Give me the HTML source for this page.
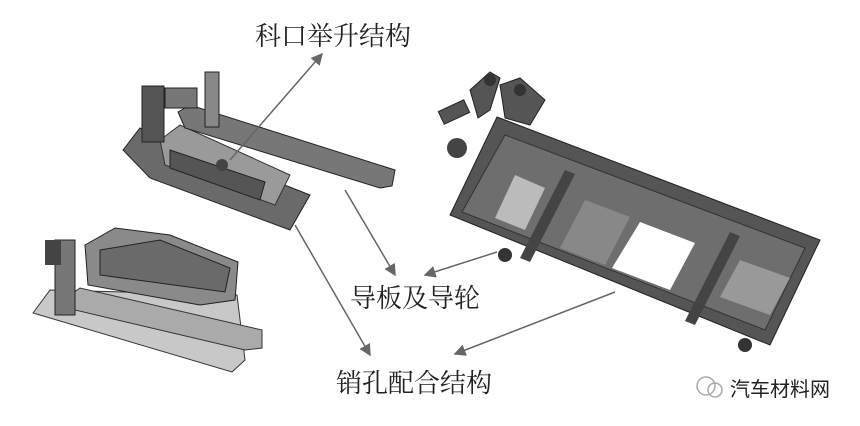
<!DOCTYPE html>
<html><head><meta charset="utf-8"><style>
body{margin:0;background:#fff;width:860px;height:426px;overflow:hidden}
svg{display:block}
text{font-family:"Liberation Serif","Noto Serif CJK SC",serif;fill:#222}
</style></head><body>
<svg width="860" height="426" viewBox="0 0 860 426">
<defs><marker id="a" markerWidth="8" markerHeight="8" refX="7" refY="4" orient="auto"><path d="M0,0 L8,4 L0,8 z" fill="#666"/></marker></defs>
<!-- top-left fixture -->
<polygon points="123,150 140,128 310,195 290,230 150,178" fill="#6a6a6a" stroke="#222"/>
<polygon points="160,140 180,125 290,175 275,205 165,165" fill="#9a9a9a" stroke="#333"/>
<polygon points="170,150 265,182 260,200 170,168" fill="#555" stroke="#222"/>
<polygon points="178,112 190,105 395,170 392,186 380,188 185,128" fill="#777" stroke="#222"/>
<rect x="142" y="86" width="22" height="56" fill="#555" stroke="#222"/>
<rect x="165" y="88" width="32" height="20" fill="#777" stroke="#222"/>
<rect x="205" y="72" width="14" height="55" fill="#888" stroke="#222"/>
<circle cx="222" cy="165" r="6" fill="#444"/>
<!-- bottom-left fixture -->
<polygon points="33,313 50,290 237,295 245,360 232,372" fill="#c8c8c8" stroke="#333"/>
<polygon points="85,245 115,228 170,235 238,262 235,300 200,305 88,285" fill="#8a8a8a" stroke="#222"/>
<polygon points="100,250 160,240 230,268 225,292 100,275" fill="#6a6a6a" stroke="#222"/>
<polygon points="70,295 80,288 262,330 262,348 245,350 75,310" fill="#aaa" stroke="#333"/>
<rect x="55" y="240" width="20" height="75" fill="#777" stroke="#222"/>
<rect x="45" y="240" width="16" height="25" fill="#444"/>
<!-- right frame -->
<polygon points="497,117 820,240 770,345 450,215" fill="#555" stroke="#222"/>
<polygon points="505,135 805,248 765,330 462,212" fill="#6e6e6e" stroke="#333"/>
<polygon points="515,175 545,188 525,230 495,218" fill="#bbb"/>
<polygon points="640,222 695,243 670,290 612,268" fill="#fff"/>
<polygon points="585,200 630,217 605,265 560,248" fill="#888"/>
<polygon points="740,260 790,278 770,315 720,297" fill="#999"/>
<polygon points="565,170 575,174 530,262 520,258" fill="#444"/>
<polygon points="730,232 740,236 695,325 685,321" fill="#444"/>
<!-- clamps upper-left of frame -->
<g fill="#555" stroke="#222">
<polygon points="470,90 490,72 500,78 490,110 478,118"/>
<polygon points="500,85 520,78 545,100 530,125 505,118"/>
<rect x="440" y="105" width="28" height="14" transform="rotate(-25 454 112)"/>
</g>
<circle cx="457" cy="148" r="10" fill="#444"/>
<circle cx="490" cy="80" r="6" fill="#333"/>
<circle cx="520" cy="90" r="6" fill="#333"/>
<circle cx="745" cy="345" r="7" fill="#333"/>
<circle cx="505" cy="255" r="7" fill="#333"/>
<!-- arrows -->
<g stroke="#666" stroke-width="1.5" fill="none" marker-end="url(#a)">
<line x1="230" y1="160" x2="322" y2="54"/>
<line x1="345" y1="190" x2="395" y2="275"/>
<line x1="497" y1="252" x2="425" y2="275"/>
<line x1="295" y1="225" x2="370" y2="355"/>
<line x1="615" y1="292" x2="455" y2="354"/>
</g>
<text x="255" y="45" font-size="26">科口举升结构</text>
<text x="350" y="307" font-size="26">导板及导轮</text>
<text x="336" y="392" font-size="26">销孔配合结构</text>
<circle cx="706" cy="386" r="9" fill="none" stroke="#aaa" stroke-width="1.5"/>
<circle cx="715" cy="390" r="7" fill="none" stroke="#aaa" stroke-width="1.5"/>
<text x="730" y="396" font-size="20" style="font-family:'Liberation Sans','Noto Sans CJK SC',sans-serif" fill="#999">汽车材料网</text>
</svg>
</body></html>
